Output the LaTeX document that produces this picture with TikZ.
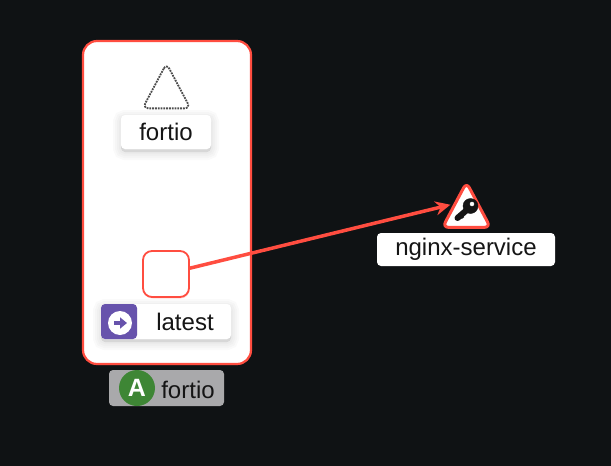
\documentclass[tikz,border=0pt]{standalone}
\usepackage{fontspec}
\setmainfont{Liberation Sans}
\usepackage{xcolor}
\usetikzlibrary{shapes.geometric, shadows, arrows.meta}

\definecolor{pagebg}{HTML}{0F1214}
\definecolor{edgered}{HTML}{FF4D40}
\definecolor{versionpurple}{HTML}{6753AC}
\definecolor{nsgreen}{HTML}{3E8635}
\definecolor{nsgrey}{HTML}{A9A9AB}
\definecolor{inkdark}{HTML}{151515}

\tikzset{
    textlabel/.style={fill=white, rounded corners=4pt, inner sep=0pt, text=inkdark, font=\fontsize{24}{24}\selectfont},
    softlayer/.style={preaction={draw=black, fill=black, opacity=0.02, line width=#1, transform canvas={yshift=-3pt}}},
    softlabel/.style={softlayer=16pt, softlayer=12pt, softlayer=8pt, softlayer=4pt, textlabel},
    appbox/.style={draw=edgered, fill=white, line width=2.2pt, rounded corners=14pt, inner sep=0pt},
    workload/.style={draw=edgered, fill=white, line width=1.8pt, rounded corners=9pt, inner sep=0pt, minimum size=46pt},
    svctriangle/.style={isosceles triangle, isosceles triangle apex angle=56, shape border rotate=90, inner sep=0pt, line join=round, minimum height=45pt, minimum width=45pt},
}

\begin{document}
\begin{tikzpicture}[x=1pt, y=-1pt]
    \useasboundingbox (0, 0) rectangle (611, 466);
    \fill[pagebg] (0, 0) rectangle (611, 466);

    % App box
    \node[appbox, minimum width=168pt, minimum height=323pt,
          drop shadow={opacity=0.5, fill=edgered!60!black, shadow xshift=0.8pt, shadow yshift=-1pt}] (app) at (167, 202.5) {};

    % Unknown workload
    \node[svctriangle, draw=black!70, fill=white, line width=1.8pt, densely dotted, rounded corners=6pt] (source) at (166.5, 94) {};
    \node[softlabel, minimum width=90pt, minimum height=34pt] (sourcelabel) at (166, 132) {fortio};

    % Version
    \node[workload, drop shadow={opacity=0.2, fill=edgered, shadow xshift=0.6pt, shadow yshift=-1.5pt}] (latest) at (166, 274) {};
    \node[softlabel, minimum width=130pt, minimum height=35pt,
          path picture={\fill[versionpurple] (path picture bounding box.north west) rectangle ([xshift=36pt]path picture bounding box.south west);}] (latestlabel) at (166, 321.5) {\hspace*{38pt}latest};
    \node[circle, fill=white, inner sep=0pt, minimum size=24pt] (latesticon) at (120, 323) {};
    \draw[versionpurple, line width=4pt, -{Triangle[length=7pt, width=11pt]}] ([xshift=-6pt]latesticon.center) -- ([xshift=7pt]latesticon.center);

    % Namespace
    \node[fill=nsgrey, rounded corners=4pt, minimum width=115pt, minimum height=36pt, inner sep=0pt] (nsbadge) at (166.5, 388) {};
    \node[circle, fill=nsgreen, text=white, inner sep=0pt, minimum size=36pt, font=\fontsize{25}{25}\selectfont\bfseries] (nsicon) at (137, 388) {A};
    \node[inner sep=0pt, text=inkdark, font=\fontsize{24}{24}\selectfont] (nslabel) at (188, 390) {fortio};

    % Service
    \node[svctriangle, draw=edgered, fill=white, line width=3pt, rounded corners=6pt] (svc) at (466.5, 213) {};
    \node[textlabel, minimum width=178pt, minimum height=33pt] (svclabel) at (466, 249.5) {nginx-service};

    % Key
    \draw[inkdark, line width=6pt, line cap=round] (468, 209) -- (457.5, 218);
    \draw[inkdark, line width=3pt] (460, 214) -- (463, 218);
    \filldraw[inkdark] (470.5, 206) circle (7.5pt);
    \filldraw[white] (472, 204) circle (2pt);

    % Edge
    \draw[edgered, line width=3.5pt, shorten >=3pt, -{Stealth[length=15pt, width=14pt, inset=5pt]}] (latest) -- (svc.left side);
\end{tikzpicture}
\end{document}
